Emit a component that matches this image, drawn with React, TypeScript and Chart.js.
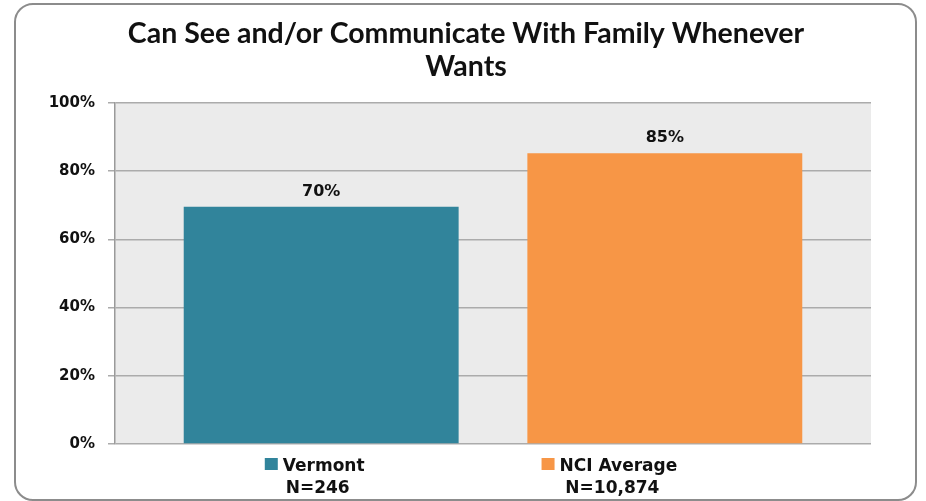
import React, { useEffect, useRef } from "react";
import { Chart, registerables } from "chart.js";

Chart.register(...registerables);

const TITLE_LINES = ["Can See and/or Communicate With Family Whenever", "Wants"];
const CATEGORIES = ["Vermont", "NCI Average"];
const SAMPLE_SIZES = ["N=246", "N=10,874"];
const VALUES = [69.6, 85.3];
const COLORS = ["#31849B", "#F79646"];
const Y_MIN = 0;
const Y_MAX = 100;
const Y_STEP = 20;

const TEXT = "#111111";
const FONT = "'DejaVu Sans', Verdana, sans-serif";
const TITLE_FONT = "Lato, 'Open Sans', sans-serif";

const framePlugin = {
  id: "frame",
  beforeDraw(chart: any) {
    const { ctx, chartArea } = chart;
    ctx.save();
    ctx.fillStyle = "#ffffff";
    ctx.fillRect(0, 0, chart.width, chart.height);
    ctx.fillStyle = "#ebebeb";
    ctx.fillRect(chartArea.left, chartArea.top, chartArea.right - chartArea.left, chartArea.bottom - chartArea.top);
    ctx.strokeStyle = "#8c8c8c";
    ctx.lineWidth = 2;
    ctx.beginPath();
    ctx.roundRect(15, 4, 901, 496, 18);
    ctx.stroke();
    ctx.restore();
  },
};

const titlePlugin = {
  id: "centeredTitle",
  afterDraw(chart: any) {
    const { ctx } = chart;
    ctx.save();
    ctx.font = `bold 28.5px ${TITLE_FONT}`;
    ctx.fillStyle = TEXT;
    ctx.textAlign = "center";
    ctx.textBaseline = "middle";
    TITLE_LINES.forEach((line, i) => {
      ctx.fillText(line, 466, 33.5 + i * 33);
    });
    ctx.restore();
  },
};

const valueLabelPlugin = {
  id: "valueLabels",
  afterDatasetsDraw(chart: any) {
    const { ctx } = chart;
    const meta = chart.getDatasetMeta(0);
    ctx.save();
    ctx.font = `bold 16px ${FONT}`;
    ctx.fillStyle = TEXT;
    ctx.textAlign = "center";
    ctx.textBaseline = "alphabetic";
    meta.data.forEach((bar: any, i: number) => {
      ctx.fillText(`${Math.round(VALUES[i])}%`, bar.x, bar.y - 11);
    });
    ctx.restore();
  },
};

const legendPlugin = {
  id: "bottomLegend",
  afterDraw(chart: any) {
    const { ctx } = chart;
    ctx.save();
    ctx.font = `bold 17px ${FONT}`;
    const box = 13;
    const gap = 5;
    const itemGap = 177;
    const widths = CATEGORIES.map((c) => box + gap + ctx.measureText(c).width);
    const total = widths.reduce((a, b) => a + b, 0) + itemGap * (CATEGORIES.length - 1);
    let x = chart.width / 2 + 8 - total / 2;
    const line1 = 471;
    const line2 = 493;
    CATEGORIES.forEach((c, i) => {
      ctx.fillStyle = COLORS[i];
      ctx.fillRect(x, line1 - 13, box, box - 1);
      ctx.fillStyle = TEXT;
      ctx.textAlign = "left";
      ctx.textBaseline = "alphabetic";
      ctx.fillText(c, x + box + gap, line1);
      ctx.textAlign = "center";
      ctx.fillText(SAMPLE_SIZES[i], x + widths[i] / 2 + 3, line2);
      x += widths[i] + itemGap;
    });
    ctx.restore();
  },
};

export default function App() {
  const canvasRef = useRef<HTMLCanvasElement | null>(null);

  useEffect(() => {
    const canvas = canvasRef.current;
    if (!canvas) return;
    const chart = new Chart(canvas, {
      type: "bar",
      data: {
        datasets: [
          {
            label: "Share",
            data: VALUES.map((v, i) => ({ x: i, y: v })),
            backgroundColor: COLORS,
            borderWidth: 0,
            barPercentage: 0.8,
            categoryPercentage: 1,
          },
        ],
      },
      plugins: [framePlugin, valueLabelPlugin, legendPlugin, titlePlugin],
      options: {
        responsive: false,
        animation: false,
        devicePixelRatio: 1,
        layout: { padding: { top: 103, right: 55, bottom: 57, left: 0 } },
        plugins: {
          legend: { display: false },
          tooltip: { enabled: false },
          title: { display: false },
        },
        scales: {
          x: {
            type: "linear",
            display: false,
            min: -0.6,
            max: 1.6,
            offset: false,
            ticks: { stepSize: 1, includeBounds: false },
          },
          y: {
            min: Y_MIN,
            max: Y_MAX,
            afterFit(scale: any) {
              scale.width = 115;
            },
            ticks: {
              stepSize: Y_STEP,
              padding: 13,
              color: TEXT,
              font: { family: FONT, size: 15, weight: "bold" },
              callback: (v: any) => `${v}%`,
            },
            grid: {
              color: "#ababab",
              lineWidth: 1.5,
              tickLength: 7,
              drawTicks: true,
            },
            border: { color: "#9a9a9a", width: 1.5 },
          },
        },
      },
    } as any);
    return () => chart.destroy();
  }, []);

  return (
    <div style={{ position: "fixed", left: 0, top: 0, width: 926, height: 501, background: "#fff" }}>
      <canvas ref={canvasRef} width={926} height={501} />
    </div>
  );
}
